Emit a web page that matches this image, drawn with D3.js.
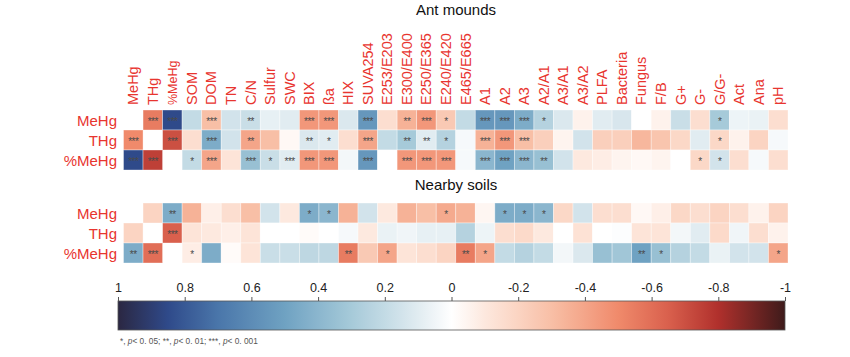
<!DOCTYPE html>
<html><head><meta charset="utf-8">
<script src="https://cdn.jsdelivr.net/npm/d3@7"></script>
<style>body{margin:0;background:#fff;}svg{display:block;font-family:Arial,"Liberation Sans",sans-serif;}</style>
</head><body>
<svg id="chart" width="850" height="357"></svg>
<script>
const variables = ["MeHg","THg","%MeHg","SOM","DOM","TN","C/N","Sulfur","SWC","BIX","ßa","HIX","SUVA254","E253/E203","E300/E400","E250/E365","E240/E420","E465/E665","A1","A2","A3","A2/A1","A3/A1","A3/A2","PLFA","Bacteria","Fungus","F/B","G+","G-","G/G-","Act","Ana","pH"];
const rowLabels = ["MeHg","THg","%MeHg"];

const antMeHg  = [null,-0.55,0.85,0.2,-0.3,0.15,0.18,0.08,0.1,-0.45,-0.45,0.12,0.55,-0.15,-0.35,-0.45,-0.25,0.2,0.55,0.55,0.45,0.25,0.12,-0.06,0.1,0.13,0,-0.06,0.18,-0.15,0.3,0.06,0.07,-0.15];
const antTHg   = [-0.5,null,-0.7,-0.15,0.45,0.15,-0.4,-0.3,-0.03,0.12,0.1,-0.15,-0.4,0.2,0.3,0.1,0.25,0.03,-0.35,-0.45,-0.3,-0.22,-0.05,0.15,-0.22,-0.22,-0.33,-0.27,-0.18,0.1,-0.18,-0.06,-0.2,0.03];
const antPMeHg = [0.85,-0.75,null,0.2,-0.4,-0.12,0.35,0.18,0.1,-0.45,-0.45,0.04,0.55,0,-0.45,-0.45,-0.45,0.03,0.4,0.5,0.4,0.35,0.15,-0.1,-0.08,-0.05,-0.03,-0.05,0,-0.18,0.15,-0.15,0.03,-0.15];

const antMeHgSig  = ["","***","***","","***","","**","","","***","***","","***","","**","***","*","","***","***","***","*","","","","","","","","","*","","",""];
const antTHgSig   = ["***","","***","","***","","**","","","**","*","","***","","**","**","*","","***","***","***","","","","","","","","","","*","","",""];
const antPMeHgSig = ["***","***","","*","***","","***","*","***","***","***","","***","","***","***","***","","***","***","***","**","","","","","","","","*","*","","",""];

const soilMeHg  = [null,-0.2,0.45,-0.35,-0.07,-0.15,-0.3,0.15,-0.1,0.45,0.4,-0.35,0.15,-0.1,-0.35,-0.3,-0.38,-0.35,-0.04,0.45,0.45,0.4,-0.18,0.15,-0.15,-0.15,-0.03,-0.07,-0.18,-0.15,-0.2,-0.15,-0.06,-0.2];
const soilTHg   = [-0.2,null,-0.65,-0.12,-0.1,-0.07,-0.12,0,0,-0.02,0,0.03,-0.1,0.07,0.05,0.08,0.08,0.25,0.06,-0.15,-0.17,-0.1,0,-0.13,0,0.01,-0.12,-0.12,0.04,0.1,-0.17,0.05,-0.15,-0.06];
const soilPMeHg = [0.45,-0.6,null,-0.08,0.45,-0.02,-0.12,0.18,0.18,0.22,0.22,-0.55,-0.25,-0.4,-0.12,-0.15,-0.2,-0.55,-0.4,0.2,0.25,0.2,0.04,0.12,0.35,0.32,0.5,0.35,0.25,0.2,0.07,0.15,0.15,-0.4];

const soilMeHgSig  = ["","","**","","","","","","","*","*","","","","","","*","","","*","*","*","","","","","","","","","","","",""];
const soilTHgSig   = ["","","***","","","","","","","","","","","","","","","","","","","","","","","","","","","","","","",""];
const soilPMeHgSig = ["**","***","","*","","","","","","","","**","","*","","","","**","*","","","","","","","","**","*","","","","","","*"];

const colorbarTicks = [1,0.8,0.6,0.4,0.2,0,-0.2,-0.4,-0.6,-0.8,-1];
const colorStops = [1,0.85,0.7,0.5,0.3,0.12,0,-0.12,-0.3,-0.5,-0.65,-0.8,-1];
const colorValues = ["#2b2742","#2f4a8a","#4a76aa","#6fa2c2","#a6cad9","#dbe8ee","#ffffff","#fde4d8","#f8bfa6","#f08a6b","#d9604d","#b0302c","#3e1b1b"];

const svg = d3.select("#chart");
const color = d3.scaleLinear().domain(colorStops).range(colorValues).interpolate(d3.interpolateRgb).clamp(true);
const x = d3.scaleBand().domain(variables).range([123.5, 788]).padding(0);
const red = "#e8352f";

function panel(top, title, vals, sigs) {
  const y = d3.scaleBand().domain(rowLabels).range([top, top + 60]);
  const cells = [];
  rowLabels.forEach((r, i) => variables.forEach((v, j) => cells.push({r, v, val: vals[i][j], sig: sigs[i][j]})));
  const g = svg.append("g");
  g.selectAll("rect").data(cells.filter(d => d.val !== null)).join("rect")
    .attr("x", d => x(d.v)).attr("y", d => y(d.r))
    .attr("width", x.bandwidth()).attr("height", y.bandwidth())
    .attr("fill", d => color(d.val))
    .attr("stroke", "#ffffff").attr("stroke-opacity", 0.45).attr("stroke-width", 0.8);
  g.selectAll("text.sig").data(cells.filter(d => d.sig)).join("text")
    .attr("class", "sig")
    .attr("x", d => x(d.v) + x.bandwidth() / 2).attr("y", d => y(d.r) + y.bandwidth() / 2 + 4.5)
    .attr("text-anchor", "middle").attr("font-size", 10).attr("fill", "#4a4a4a")
    .attr("letter-spacing", "-0.5")
    .text(d => d.sig);
  g.selectAll("text.row").data(rowLabels).join("text")
    .attr("class", "row")
    .attr("x", 117).attr("y", d => y(d) + y.bandwidth() / 2 + 5.5)
    .attr("text-anchor", "end").attr("font-size", 15).attr("fill", red)
    .text(d => d);
  svg.append("text").attr("x", 456).attr("y", top - (title === "Ant mounds" ? 95 : 13))
    .attr("text-anchor", "middle").attr("font-size", 15).attr("fill", "#111").text(title);
}

panel(110, "Ant mounds", [antMeHg, antTHg, antPMeHg], [antMeHgSig, antTHgSig, antPMeHgSig]);
panel(203, "Nearby soils", [soilMeHg, soilTHg, soilPMeHg], [soilMeHgSig, soilTHgSig, soilPMeHgSig]);

// column labels
svg.append("g").selectAll("text").data(variables).join("text")
  .attr("transform", d => `translate(${x(d) + x.bandwidth() / 2 + 5},105) rotate(-90)`)
  .attr("text-anchor", "start").attr("font-size", d => d === "%MeHg" ? 12.5 : 14.5).attr("fill", red)
  .text(d => d);

// colorbar
const cb = d3.scaleLinear().domain([1, -1]).range([118, 785]);
const defs = svg.append("defs");
const grad = defs.append("linearGradient").attr("id", "cbgrad").attr("x1", "0%").attr("x2", "100%");
d3.range(0, 41).forEach(i => {
  const v = 1 - i / 20;
  grad.append("stop").attr("offset", (i / 40 * 100) + "%").attr("stop-color", color(v));
});
svg.append("rect").attr("x", cb(1)).attr("y", 301).attr("width", cb(-1) - cb(1)).attr("height", 29)
  .attr("fill", "url(#cbgrad)").attr("stroke", "#555").attr("stroke-width", 0.8);
const axis = d3.axisTop(cb).tickValues(colorbarTicks).tickSize(4).tickFormat(d => d === 0 ? "0" : String(d));
const ax = svg.append("g").attr("transform", "translate(0,301)").call(axis);
ax.select(".domain").remove();
ax.selectAll("line").attr("stroke", "#555");
ax.selectAll("text").attr("font-size", 12.5).attr("fill", "#222").attr("font-family", "Arial, 'Liberation Sans', sans-serif").attr("dy", "-0.2em");

// footnote
const fn = svg.append("text").attr("x", 120).attr("y", 344).attr("font-size", 8.3).attr("fill", "#555");
const parts = [["*, ", false], ["p", true], ["< 0. 05;  **, ", false], ["p", true], ["< 0. 01;  ***, ", false], ["p", true], ["< 0. 001", false]];
parts.forEach(([t, it]) => fn.append("tspan").attr("font-style", it ? "italic" : "normal").text(t));
</script>
</body></html>
